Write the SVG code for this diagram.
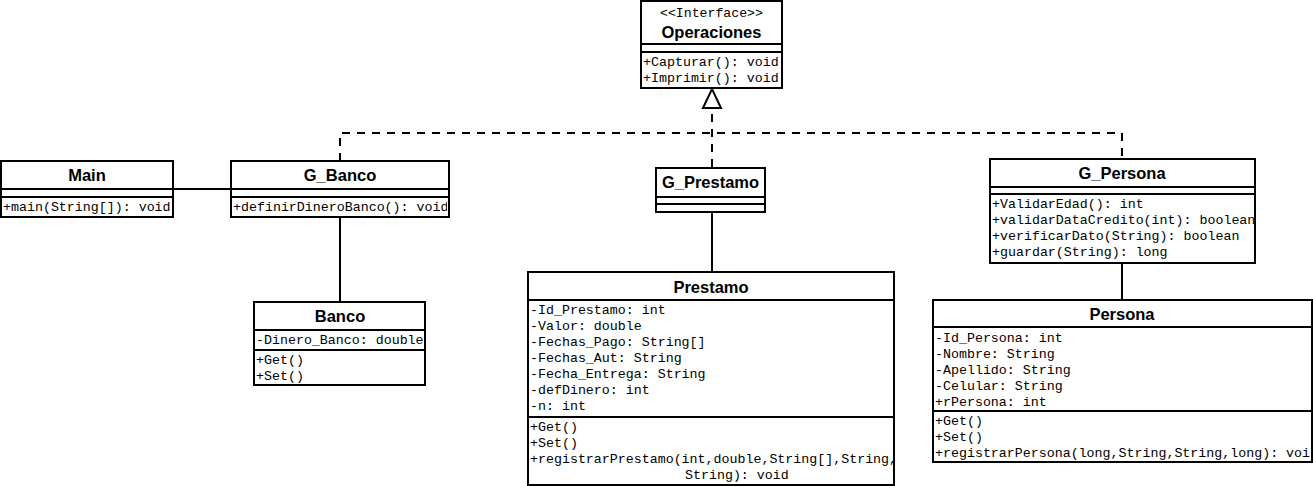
<svg xmlns="http://www.w3.org/2000/svg" width="1313" height="486" viewBox="0 0 1313 486">
<style>
.box{fill:#fff;stroke:#000;stroke-width:2}
.sep{stroke:#000;stroke-width:2}
.t{font-family:"Liberation Sans",Arial,sans-serif;font-weight:bold;font-size:16.5px;text-anchor:middle;fill:#000}
.m{font-family:"Liberation Mono","Courier New",monospace;font-size:13.3px;fill:#000}
.st{font-family:"Liberation Mono","Courier New",monospace;font-size:13.2px;fill:#000;text-anchor:middle}
.ln{fill:none;stroke:#000;stroke-width:2}
.dash{fill:none;stroke:#000;stroke-width:2;stroke-dasharray:8 7}
</style>
<defs>
<clipPath id="cGB"><rect x="231" y="161" width="216" height="56"/></clipPath>
<clipPath id="cB"><rect x="254" y="302" width="170" height="83"/></clipPath>
</defs>

<g id="connectors">
<line class="ln" x1="173" y1="189" x2="231" y2="189"/>
<line class="ln" x1="340" y1="217" x2="340" y2="302"/>
<line class="ln" x1="712" y1="212" x2="712" y2="272"/>
<line class="ln" x1="1122" y1="263" x2="1122" y2="300"/>
<polyline class="dash" points="340,161 340,133 1122,133 1122,159"/>
<line class="dash" x1="712" y1="167" x2="712" y2="108"/>
<path d="M703,108 L712,89 L721,108 Z" fill="#fff" stroke="#000" stroke-width="2"/>
</g>

<g id="Operaciones">
<rect class="box" x="641" y="1" width="141" height="87"/>
<line class="sep" x1="641" y1="44" x2="782" y2="44"/>
<line class="sep" x1="641" y1="52" x2="782" y2="52"/>
<text class="st" x="711.5" y="17">&lt;&lt;Interface&gt;&gt;</text>
<text class="t" x="711.5" y="38">Operaciones</text>
<text class="m" x="643" y="66">+Capturar(): void</text>
<text class="m" x="643" y="82">+Imprimir(): void</text>
</g>

<g id="Main">
<rect class="box" x="1" y="161" width="172" height="56"/>
<line class="sep" x1="1" y1="189" x2="173" y2="189"/>
<line class="sep" x1="1" y1="197" x2="173" y2="197"/>
<text class="t" x="87" y="181">Main</text>
<text class="m" x="3" y="211">+main(String[]): void</text>
</g>

<g id="G_Banco">
<rect class="box" x="231" y="161" width="218" height="56"/>
<line class="sep" x1="231" y1="189" x2="449" y2="189"/>
<line class="sep" x1="231" y1="197" x2="449" y2="197"/>
<text class="t" x="340" y="181">G_Banco</text>
<text class="m" x="233" y="211" clip-path="url(#cGB)">+definirDineroBanco(): void</text>
</g>

<g id="Banco">
<rect class="box" x="254" y="302" width="171" height="83"/>
<line class="sep" x1="254" y1="330" x2="425" y2="330"/>
<line class="sep" x1="254" y1="350" x2="425" y2="350"/>
<text class="t" x="340" y="322">Banco</text>
<text class="m" x="256" y="344" clip-path="url(#cB)">-Dinero_Banco: double</text>
<text class="m" x="256" y="364">+Get()</text>
<text class="m" x="256" y="380">+Set()</text>
</g>

<g id="G_Prestamo">
<rect class="box" x="656" y="168" width="109" height="44"/>
<line class="sep" x1="656" y1="197" x2="765" y2="197"/>
<line class="sep" x1="656" y1="204" x2="765" y2="204"/>
<text class="t" x="710.5" y="188">G_Prestamo</text>
</g>

<g id="Prestamo">
<rect class="box" x="528" y="272" width="366" height="213"/>
<line class="sep" x1="528" y1="300" x2="894" y2="300"/>
<line class="sep" x1="528" y1="417" x2="894" y2="417"/>
<text class="t" x="711" y="293">Prestamo</text>
<text class="m" x="530" y="314">-Id_Prestamo: int</text>
<text class="m" x="530" y="330">-Valor: double</text>
<text class="m" x="530" y="346">-Fechas_Pago: String[]</text>
<text class="m" x="530" y="362">-Fechas_Aut: String</text>
<text class="m" x="530" y="378">-Fecha_Entrega: String</text>
<text class="m" x="530" y="394">-defDinero: int</text>
<text class="m" x="530" y="410">-n: int</text>
<text class="m" x="530" y="431">+Get()</text>
<text class="m" x="530" y="447">+Set()</text>
<text class="m" x="530" y="463">+registrarPrestamo(int,double,String[],String,</text>
<text class="m" x="685" y="479">String): void</text>
</g>

<g id="G_Persona">
<rect class="box" x="990" y="159" width="265" height="104"/>
<line class="sep" x1="990" y1="187" x2="1255" y2="187"/>
<line class="sep" x1="990" y1="194" x2="1255" y2="194"/>
<text class="t" x="1122" y="179">G_Persona</text>
<text class="m" x="992" y="208">+ValidarEdad(): int</text>
<text class="m" x="992" y="224">+validarDataCredito(int): boolean</text>
<text class="m" x="992" y="240">+verificarDato(String): boolean</text>
<text class="m" x="992" y="256">+guardar(String): long</text>
</g>

<g id="Persona">
<rect class="box" x="933" y="300" width="379" height="162"/>
<line class="sep" x1="933" y1="327" x2="1312" y2="327"/>
<line class="sep" x1="933" y1="411" x2="1312" y2="411"/>
<text class="t" x="1122" y="320">Persona</text>
<text class="m" x="935" y="342">-Id_Persona: int</text>
<text class="m" x="935" y="358">-Nombre: String</text>
<text class="m" x="935" y="374">-Apellido: String</text>
<text class="m" x="935" y="390">-Celular: String</text>
<text class="m" x="935" y="406">+rPersona: int</text>
<text class="m" x="935" y="425">+Get()</text>
<text class="m" x="935" y="441">+Set()</text>
<text class="m" x="935" y="457">+registrarPersona(long,String,String,long): voi</text>
</g>
</svg>
